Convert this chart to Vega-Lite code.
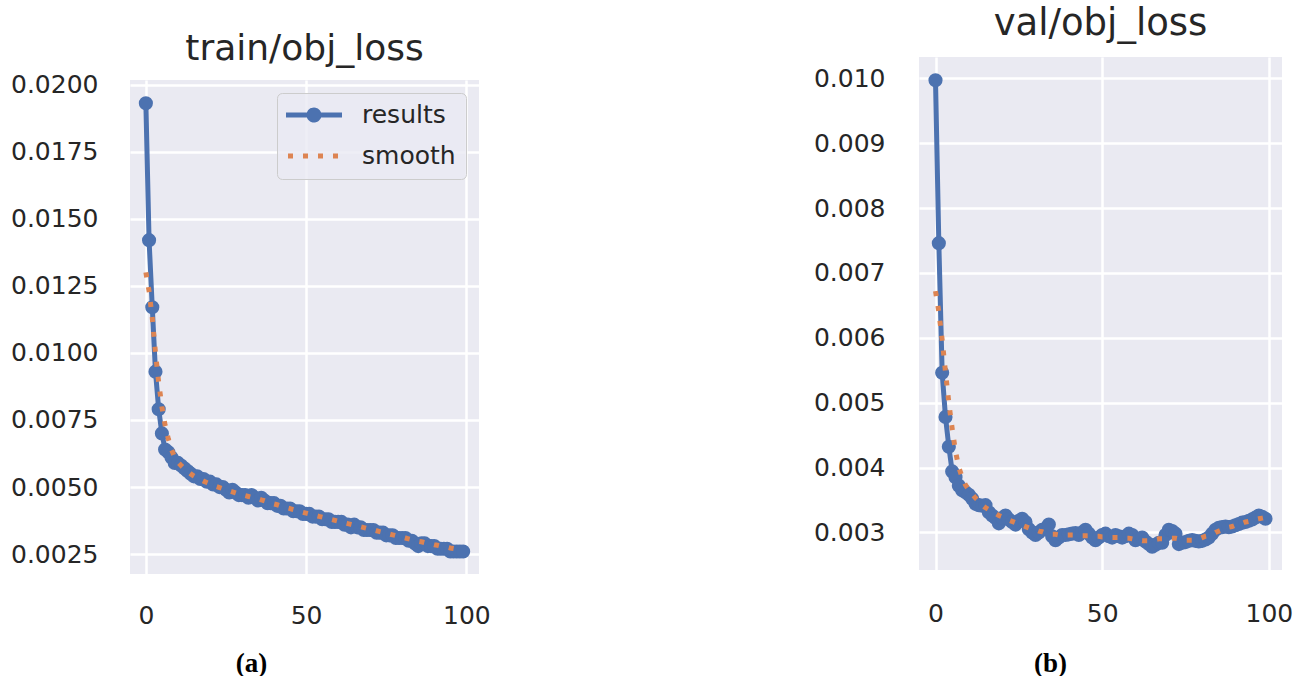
{
"$schema": "https://vega.github.io/schema/vega-lite/v6.json",
"background": "white",
"padding": {"left": 10, "top": 5, "right": 0, "bottom": 0},
"config": {
  "font": "DejaVu Sans",
  "view": {"stroke": null, "fill": "#EAEAF2"},
  "axis": {"domain": false, "ticks": false, "grid": true, "gridColor": "#FFFFFF", "gridWidth": 2.5, "labelFont": "DejaVu Sans", "labelFontSize": 25, "labelColor": "#262626"},
  "title": {"font": "DejaVu Sans", "fontWeight": "normal", "color": "#262626", "anchor": "middle", "frame": "group"}
},
"datasets": {
"train": [
{"epoch":0,"series":"results","value":0.0193},{"epoch":1,"series":"results","value":0.0142},{"epoch":2,"series":"results","value":0.0117},{"epoch":3,"series":"results","value":0.0093},{"epoch":4,"series":"results","value":0.0079},{"epoch":5,"series":"results","value":0.0070},{"epoch":6,"series":"results","value":0.0064},{"epoch":7,"series":"results","value":0.0063},{"epoch":8,"series":"results","value":0.0061},{"epoch":9,"series":"results","value":0.0059},
{"epoch":10,"series":"results","value":0.0059},{"epoch":11,"series":"results","value":0.0058},{"epoch":12,"series":"results","value":0.0057},{"epoch":13,"series":"results","value":0.0056},{"epoch":14,"series":"results","value":0.0055},{"epoch":15,"series":"results","value":0.0054},{"epoch":16,"series":"results","value":0.0054},{"epoch":17,"series":"results","value":0.0053},{"epoch":18,"series":"results","value":0.0053},{"epoch":19,"series":"results","value":0.0052},
{"epoch":20,"series":"results","value":0.0052},{"epoch":21,"series":"results","value":0.0051},{"epoch":22,"series":"results","value":0.0051},{"epoch":23,"series":"results","value":0.0050},{"epoch":24,"series":"results","value":0.0050},{"epoch":25,"series":"results","value":0.0049},{"epoch":26,"series":"results","value":0.0048},{"epoch":27,"series":"results","value":0.0049},{"epoch":28,"series":"results","value":0.0048},{"epoch":29,"series":"results","value":0.0047},
{"epoch":30,"series":"results","value":0.0047},{"epoch":31,"series":"results","value":0.0047},{"epoch":32,"series":"results","value":0.0046},{"epoch":33,"series":"results","value":0.0047},{"epoch":34,"series":"results","value":0.0046},{"epoch":35,"series":"results","value":0.0045},{"epoch":36,"series":"results","value":0.0046},{"epoch":37,"series":"results","value":0.0045},{"epoch":38,"series":"results","value":0.0044},{"epoch":39,"series":"results","value":0.0044},
{"epoch":40,"series":"results","value":0.0044},{"epoch":41,"series":"results","value":0.0043},{"epoch":42,"series":"results","value":0.0043},{"epoch":43,"series":"results","value":0.0042},{"epoch":44,"series":"results","value":0.0042},{"epoch":45,"series":"results","value":0.0042},{"epoch":46,"series":"results","value":0.0041},{"epoch":47,"series":"results","value":0.0041},{"epoch":48,"series":"results","value":0.0041},{"epoch":49,"series":"results","value":0.0040},
{"epoch":50,"series":"results","value":0.0040},{"epoch":51,"series":"results","value":0.0040},{"epoch":52,"series":"results","value":0.0039},{"epoch":53,"series":"results","value":0.0039},{"epoch":54,"series":"results","value":0.0039},{"epoch":55,"series":"results","value":0.0038},{"epoch":56,"series":"results","value":0.0038},{"epoch":57,"series":"results","value":0.0038},{"epoch":58,"series":"results","value":0.0037},{"epoch":59,"series":"results","value":0.0037},
{"epoch":60,"series":"results","value":0.0037},{"epoch":61,"series":"results","value":0.0037},{"epoch":62,"series":"results","value":0.0036},{"epoch":63,"series":"results","value":0.0036},{"epoch":64,"series":"results","value":0.0035},{"epoch":65,"series":"results","value":0.0036},{"epoch":66,"series":"results","value":0.0035},{"epoch":67,"series":"results","value":0.0035},{"epoch":68,"series":"results","value":0.0034},{"epoch":69,"series":"results","value":0.0034},
{"epoch":70,"series":"results","value":0.0034},{"epoch":71,"series":"results","value":0.0034},{"epoch":72,"series":"results","value":0.0033},{"epoch":73,"series":"results","value":0.0033},{"epoch":74,"series":"results","value":0.0033},{"epoch":75,"series":"results","value":0.0032},{"epoch":76,"series":"results","value":0.0032},{"epoch":77,"series":"results","value":0.0032},{"epoch":78,"series":"results","value":0.0031},{"epoch":79,"series":"results","value":0.0031},
{"epoch":80,"series":"results","value":0.0031},{"epoch":81,"series":"results","value":0.0031},{"epoch":82,"series":"results","value":0.0030},{"epoch":83,"series":"results","value":0.0030},{"epoch":84,"series":"results","value":0.0029},{"epoch":85,"series":"results","value":0.0028},{"epoch":86,"series":"results","value":0.0029},{"epoch":87,"series":"results","value":0.0029},{"epoch":88,"series":"results","value":0.0028},{"epoch":89,"series":"results","value":0.0028},
{"epoch":90,"series":"results","value":0.0028},{"epoch":91,"series":"results","value":0.0027},{"epoch":92,"series":"results","value":0.0027},{"epoch":93,"series":"results","value":0.0027},{"epoch":94,"series":"results","value":0.0027},{"epoch":95,"series":"results","value":0.0026},{"epoch":96,"series":"results","value":0.0026},{"epoch":97,"series":"results","value":0.0026},{"epoch":98,"series":"results","value":0.0026},{"epoch":99,"series":"results","value":0.0026},
{"epoch":0,"series":"smooth","value":0.0130},{"epoch":1,"series":"smooth","value":0.0123},{"epoch":2,"series":"smooth","value":0.0113},{"epoch":3,"series":"smooth","value":0.0100},{"epoch":4,"series":"smooth","value":0.0089},{"epoch":5,"series":"smooth","value":0.0080},{"epoch":6,"series":"smooth","value":0.0073},{"epoch":7,"series":"smooth","value":0.0068},{"epoch":8,"series":"smooth","value":0.0064},{"epoch":9,"series":"smooth","value":0.0061},
{"epoch":10,"series":"smooth","value":0.00593},{"epoch":11,"series":"smooth","value":0.00580},{"epoch":12,"series":"smooth","value":0.00568},{"epoch":13,"series":"smooth","value":0.00558},{"epoch":14,"series":"smooth","value":0.00549},{"epoch":15,"series":"smooth","value":0.00541},{"epoch":16,"series":"smooth","value":0.00534},{"epoch":17,"series":"smooth","value":0.00528},{"epoch":18,"series":"smooth","value":0.00522},{"epoch":19,"series":"smooth","value":0.00517},
{"epoch":20,"series":"smooth","value":0.00512},{"epoch":21,"series":"smooth","value":0.00507},{"epoch":22,"series":"smooth","value":0.00502},{"epoch":23,"series":"smooth","value":0.00498},{"epoch":24,"series":"smooth","value":0.00494},{"epoch":25,"series":"smooth","value":0.00490},{"epoch":26,"series":"smooth","value":0.00486},{"epoch":27,"series":"smooth","value":0.00482},{"epoch":28,"series":"smooth","value":0.00478},{"epoch":29,"series":"smooth","value":0.00474},
{"epoch":30,"series":"smooth","value":0.00471},{"epoch":31,"series":"smooth","value":0.00468},{"epoch":32,"series":"smooth","value":0.00465},{"epoch":33,"series":"smooth","value":0.00462},{"epoch":34,"series":"smooth","value":0.00459},{"epoch":35,"series":"smooth","value":0.00456},{"epoch":36,"series":"smooth","value":0.00452},{"epoch":37,"series":"smooth","value":0.00449},{"epoch":38,"series":"smooth","value":0.00445},{"epoch":39,"series":"smooth","value":0.00441},
{"epoch":40,"series":"smooth","value":0.00437},{"epoch":41,"series":"smooth","value":0.00434},{"epoch":42,"series":"smooth","value":0.00430},{"epoch":43,"series":"smooth","value":0.00427},{"epoch":44,"series":"smooth","value":0.00423},{"epoch":45,"series":"smooth","value":0.00420},{"epoch":46,"series":"smooth","value":0.00416},{"epoch":47,"series":"smooth","value":0.00413},{"epoch":48,"series":"smooth","value":0.00410},{"epoch":49,"series":"smooth","value":0.00406},
{"epoch":50,"series":"smooth","value":0.00403},{"epoch":51,"series":"smooth","value":0.00400},{"epoch":52,"series":"smooth","value":0.00397},{"epoch":53,"series":"smooth","value":0.00394},{"epoch":54,"series":"smooth","value":0.00391},{"epoch":55,"series":"smooth","value":0.00388},{"epoch":56,"series":"smooth","value":0.00385},{"epoch":57,"series":"smooth","value":0.00382},{"epoch":58,"series":"smooth","value":0.00379},{"epoch":59,"series":"smooth","value":0.00376},
{"epoch":60,"series":"smooth","value":0.00373},{"epoch":61,"series":"smooth","value":0.00370},{"epoch":62,"series":"smooth","value":0.00367},{"epoch":63,"series":"smooth","value":0.00364},{"epoch":64,"series":"smooth","value":0.00361},{"epoch":65,"series":"smooth","value":0.00358},{"epoch":66,"series":"smooth","value":0.00355},{"epoch":67,"series":"smooth","value":0.00352},{"epoch":68,"series":"smooth","value":0.00349},{"epoch":69,"series":"smooth","value":0.00346},
{"epoch":70,"series":"smooth","value":0.00343},{"epoch":71,"series":"smooth","value":0.00340},{"epoch":72,"series":"smooth","value":0.00337},{"epoch":73,"series":"smooth","value":0.00334},{"epoch":74,"series":"smooth","value":0.00331},{"epoch":75,"series":"smooth","value":0.00328},{"epoch":76,"series":"smooth","value":0.00325},{"epoch":77,"series":"smooth","value":0.00322},{"epoch":78,"series":"smooth","value":0.00319},{"epoch":79,"series":"smooth","value":0.00316},
{"epoch":80,"series":"smooth","value":0.00313},{"epoch":81,"series":"smooth","value":0.00310},{"epoch":82,"series":"smooth","value":0.00307},{"epoch":83,"series":"smooth","value":0.00304},{"epoch":84,"series":"smooth","value":0.00301},{"epoch":85,"series":"smooth","value":0.00298},{"epoch":86,"series":"smooth","value":0.00296},{"epoch":87,"series":"smooth","value":0.00293},{"epoch":88,"series":"smooth","value":0.00290},{"epoch":89,"series":"smooth","value":0.00288},
{"epoch":90,"series":"smooth","value":0.00285},{"epoch":91,"series":"smooth","value":0.00283},{"epoch":92,"series":"smooth","value":0.00280},{"epoch":93,"series":"smooth","value":0.00278},{"epoch":94,"series":"smooth","value":0.00276},{"epoch":95,"series":"smooth","value":0.00273},{"epoch":96,"series":"smooth","value":0.00271},{"epoch":97,"series":"smooth","value":0.00269},{"epoch":98,"series":"smooth","value":0.00267},{"epoch":99,"series":"smooth","value":0.00265}
],
"val": [
{"epoch":0,"series":"results","value":0.00997},{"epoch":1,"series":"results","value":0.00746},{"epoch":2,"series":"results","value":0.00546},{"epoch":3,"series":"results","value":0.00478},{"epoch":4,"series":"results","value":0.00432},{"epoch":5,"series":"results","value":0.00394},{"epoch":6,"series":"results","value":0.00385},{"epoch":7,"series":"results","value":0.00372},{"epoch":8,"series":"results","value":0.00365},{"epoch":9,"series":"results","value":0.00362},
{"epoch":10,"series":"results","value":0.00358},{"epoch":11,"series":"results","value":0.00352},{"epoch":12,"series":"results","value":0.00344},{"epoch":13,"series":"results","value":0.00342},{"epoch":14,"series":"results","value":0.00341},{"epoch":15,"series":"results","value":0.00342},{"epoch":16,"series":"results","value":0.00331},{"epoch":17,"series":"results","value":0.00326},{"epoch":18,"series":"results","value":0.00322},{"epoch":19,"series":"results","value":0.00314},
{"epoch":20,"series":"results","value":0.00322},{"epoch":21,"series":"results","value":0.00326},{"epoch":22,"series":"results","value":0.00320},{"epoch":23,"series":"results","value":0.00316},{"epoch":24,"series":"results","value":0.00312},{"epoch":25,"series":"results","value":0.00318},{"epoch":26,"series":"results","value":0.00321},{"epoch":27,"series":"results","value":0.00316},{"epoch":28,"series":"results","value":0.00305},{"epoch":29,"series":"results","value":0.00300},
{"epoch":30,"series":"results","value":0.00296},{"epoch":31,"series":"results","value":0.00300},{"epoch":32,"series":"results","value":0.00304},{"epoch":33,"series":"results","value":0.00306},{"epoch":34,"series":"results","value":0.00312},{"epoch":35,"series":"results","value":0.00294},{"epoch":36,"series":"results","value":0.00288},{"epoch":37,"series":"results","value":0.00292},{"epoch":38,"series":"results","value":0.00296},{"epoch":39,"series":"results","value":0.00296},
{"epoch":40,"series":"results","value":0.00297},{"epoch":41,"series":"results","value":0.00298},{"epoch":42,"series":"results","value":0.00299},{"epoch":43,"series":"results","value":0.00296},{"epoch":44,"series":"results","value":0.00300},{"epoch":45,"series":"results","value":0.00304},{"epoch":46,"series":"results","value":0.00298},{"epoch":47,"series":"results","value":0.00292},{"epoch":48,"series":"results","value":0.00288},{"epoch":49,"series":"results","value":0.00292},
{"epoch":50,"series":"results","value":0.00296},{"epoch":51,"series":"results","value":0.00298},{"epoch":52,"series":"results","value":0.00294},{"epoch":53,"series":"results","value":0.00292},{"epoch":54,"series":"results","value":0.00296},{"epoch":55,"series":"results","value":0.00294},{"epoch":56,"series":"results","value":0.00292},{"epoch":57,"series":"results","value":0.00294},{"epoch":58,"series":"results","value":0.00298},{"epoch":59,"series":"results","value":0.00296},
{"epoch":60,"series":"results","value":0.00288},{"epoch":61,"series":"results","value":0.00290},{"epoch":62,"series":"results","value":0.00292},{"epoch":63,"series":"results","value":0.00286},{"epoch":64,"series":"results","value":0.00282},{"epoch":65,"series":"results","value":0.00278},{"epoch":66,"series":"results","value":0.00281},{"epoch":67,"series":"results","value":0.00284},{"epoch":68,"series":"results","value":0.00284},{"epoch":69,"series":"results","value":0.00296},
{"epoch":70,"series":"results","value":0.00304},{"epoch":71,"series":"results","value":0.00302},{"epoch":72,"series":"results","value":0.00298},{"epoch":73,"series":"results","value":0.00282},{"epoch":74,"series":"results","value":0.00284},{"epoch":75,"series":"results","value":0.00285},{"epoch":76,"series":"results","value":0.00287},{"epoch":77,"series":"results","value":0.00288},{"epoch":78,"series":"results","value":0.00287},{"epoch":79,"series":"results","value":0.00286},
{"epoch":80,"series":"results","value":0.00287},{"epoch":81,"series":"results","value":0.00289},{"epoch":82,"series":"results","value":0.00292},{"epoch":83,"series":"results","value":0.00298},{"epoch":84,"series":"results","value":0.00304},{"epoch":85,"series":"results","value":0.00307},{"epoch":86,"series":"results","value":0.00308},{"epoch":87,"series":"results","value":0.00309},{"epoch":88,"series":"results","value":0.00308},{"epoch":89,"series":"results","value":0.00309},
{"epoch":90,"series":"results","value":0.00311},{"epoch":91,"series":"results","value":0.00313},{"epoch":92,"series":"results","value":0.00315},{"epoch":93,"series":"results","value":0.00316},{"epoch":94,"series":"results","value":0.00318},{"epoch":95,"series":"results","value":0.00320},{"epoch":96,"series":"results","value":0.00323},{"epoch":97,"series":"results","value":0.00326},{"epoch":98,"series":"results","value":0.00324},{"epoch":99,"series":"results","value":0.00321},
{"epoch":0,"series":"smooth","value":0.00672},{"epoch":1,"series":"smooth","value":0.00640},{"epoch":2,"series":"smooth","value":0.00597},{"epoch":3,"series":"smooth","value":0.00547},{"epoch":4,"series":"smooth","value":0.00500},{"epoch":5,"series":"smooth","value":0.00460},{"epoch":6,"series":"smooth","value":0.00425},{"epoch":7,"series":"smooth","value":0.00400},{"epoch":8,"series":"smooth","value":0.00385},{"epoch":9,"series":"smooth","value":0.00373},
{"epoch":10,"series":"smooth","value":0.00366},{"epoch":11,"series":"smooth","value":0.00359},{"epoch":12,"series":"smooth","value":0.00353},{"epoch":13,"series":"smooth","value":0.00348},{"epoch":14,"series":"smooth","value":0.00342},{"epoch":15,"series":"smooth","value":0.00338},{"epoch":16,"series":"smooth","value":0.00335},{"epoch":17,"series":"smooth","value":0.00332},{"epoch":18,"series":"smooth","value":0.00329},{"epoch":19,"series":"smooth","value":0.00326},
{"epoch":20,"series":"smooth","value":0.00324},{"epoch":21,"series":"smooth","value":0.00322},{"epoch":22,"series":"smooth","value":0.00319},{"epoch":23,"series":"smooth","value":0.00317},{"epoch":24,"series":"smooth","value":0.00315},{"epoch":25,"series":"smooth","value":0.00313},{"epoch":26,"series":"smooth","value":0.00311},{"epoch":27,"series":"smooth","value":0.00309},{"epoch":28,"series":"smooth","value":0.00307},{"epoch":29,"series":"smooth","value":0.00305},
{"epoch":30,"series":"smooth","value":0.00304},{"epoch":31,"series":"smooth","value":0.00302},{"epoch":32,"series":"smooth","value":0.00301},{"epoch":33,"series":"smooth","value":0.00299},{"epoch":34,"series":"smooth","value":0.00298},{"epoch":35,"series":"smooth","value":0.00297},{"epoch":36,"series":"smooth","value":0.00297},{"epoch":37,"series":"smooth","value":0.00296},{"epoch":38,"series":"smooth","value":0.00296},{"epoch":39,"series":"smooth","value":0.00296},
{"epoch":40,"series":"smooth","value":0.00296},{"epoch":41,"series":"smooth","value":0.00296},{"epoch":42,"series":"smooth","value":0.00296},{"epoch":43,"series":"smooth","value":0.00296},{"epoch":44,"series":"smooth","value":0.00295},{"epoch":45,"series":"smooth","value":0.00295},{"epoch":46,"series":"smooth","value":0.00295},{"epoch":47,"series":"smooth","value":0.00294},{"epoch":48,"series":"smooth","value":0.00294},{"epoch":49,"series":"smooth","value":0.00294},
{"epoch":50,"series":"smooth","value":0.00293},{"epoch":51,"series":"smooth","value":0.00293},{"epoch":52,"series":"smooth","value":0.00292},{"epoch":53,"series":"smooth","value":0.00292},{"epoch":54,"series":"smooth","value":0.00292},{"epoch":55,"series":"smooth","value":0.00292},{"epoch":56,"series":"smooth","value":0.00291},{"epoch":57,"series":"smooth","value":0.00291},{"epoch":58,"series":"smooth","value":0.00291},{"epoch":59,"series":"smooth","value":0.00290},
{"epoch":60,"series":"smooth","value":0.00289},{"epoch":61,"series":"smooth","value":0.00288},{"epoch":62,"series":"smooth","value":0.00287},{"epoch":63,"series":"smooth","value":0.00287},{"epoch":64,"series":"smooth","value":0.00287},{"epoch":65,"series":"smooth","value":0.00288},{"epoch":66,"series":"smooth","value":0.00289},{"epoch":67,"series":"smooth","value":0.00290},{"epoch":68,"series":"smooth","value":0.00290},{"epoch":69,"series":"smooth","value":0.00291},
{"epoch":70,"series":"smooth","value":0.00291},{"epoch":71,"series":"smooth","value":0.00291},{"epoch":72,"series":"smooth","value":0.00291},{"epoch":73,"series":"smooth","value":0.00290},{"epoch":74,"series":"smooth","value":0.00289},{"epoch":75,"series":"smooth","value":0.00288},{"epoch":76,"series":"smooth","value":0.00288},{"epoch":77,"series":"smooth","value":0.00288},{"epoch":78,"series":"smooth","value":0.00289},{"epoch":79,"series":"smooth","value":0.00290},
{"epoch":80,"series":"smooth","value":0.00292},{"epoch":81,"series":"smooth","value":0.00294},{"epoch":82,"series":"smooth","value":0.00295},{"epoch":83,"series":"smooth","value":0.00297},{"epoch":84,"series":"smooth","value":0.00300},{"epoch":85,"series":"smooth","value":0.00302},{"epoch":86,"series":"smooth","value":0.00304},{"epoch":87,"series":"smooth","value":0.00306},{"epoch":88,"series":"smooth","value":0.00308},{"epoch":89,"series":"smooth","value":0.00309},
{"epoch":90,"series":"smooth","value":0.00311},{"epoch":91,"series":"smooth","value":0.00312},{"epoch":92,"series":"smooth","value":0.00314},{"epoch":93,"series":"smooth","value":0.00316},{"epoch":94,"series":"smooth","value":0.00317},{"epoch":95,"series":"smooth","value":0.00319},{"epoch":96,"series":"smooth","value":0.00320},{"epoch":97,"series":"smooth","value":0.00321},{"epoch":98,"series":"smooth","value":0.00322},{"epoch":99,"series":"smooth","value":0.00323}
]
},
"resolve": {"scale": {"color": "independent"}, "legend": {"color": "independent"}},
"spacing": 322,
"hconcat": [
  {
    "spacing": 5,
    "resolve": {"scale": {"color": "independent"}, "legend": {"color": "independent"}},
    "vconcat": [
      {
        "width": 349, "height": 1,
        "data": {"values": []},
        "mark": {"type": "rule"},
        "encoding": {},
        "view": {"fill": null, "stroke": null},
        "title": {"text": "train/obj_loss", "fontSize": 36, "offset": -11}
      },
      {
        "width": 349, "height": 494,
        "data": {"name": "train"},
        "encoding": {
          "x": {"field": "epoch", "type": "quantitative",
                "scale": {"domain": [-4.95, 103.95], "nice": false, "zero": false},
                "axis": {"values": [0, 50, 100], "labelPadding": 29.5, "title": "(a)", "titleFont": "Liberation Serif", "titleFontWeight": "bold", "titleFontSize": 27, "titleColor": "#000000", "titleX": 121, "titleY": 89, "titleBaseline": "middle", "titleAlign": "center"}},
          "y": {"field": "value", "type": "quantitative",
                "scale": {"domain": [0.00176, 0.02017], "nice": false, "zero": false},
                "axis": {"values": [0.0025, 0.005, 0.0075, 0.01, 0.0125, 0.015, 0.0175, 0.02], "format": ".4f", "title": null, "labelPadding": 32}},
          "color": {"field": "series", "type": "nominal",
                "scale": {"domain": ["results", "smooth"], "range": ["#4C72B0", "#DD8452"]},
                "legend": {"title": null, "orient": "top-right", "offset": 13, "padding": 9.5,
                  "fillColor": "rgba(234,234,242,0.8)", "strokeColor": "#cccccc", "cornerRadius": 5,
                  "labelFont": "DejaVu Sans", "labelFontSize": 25, "labelColor": "#262626",
                  "symbolSize": 400, "symbolStrokeWidth": 5, "symbolOffset": 15, "labelOffset": 35.5, "rowPadding": 13,
                  "encode": {"symbols": {"update": {
                    "shape": {"signal": "datum.value === 'results' ? 'M-2.8,0H2.8M0.5,0A0.5,0.5 0 1 1 -0.5,0A0.5,0.5 0 1 1 0.5,0Z' : 'M-2.6,0H2.6'"},
                    "fill": {"signal": "datum.value === 'results' ? '#4C72B0' : 'transparent'"},
                    "stroke": {"signal": "datum.value === 'results' ? '#4C72B0' : '#DD8452'"},
                    "strokeDash": {"signal": "datum.value === 'smooth' ? [5, 10] : [1, 0]"},
                    "strokeCap": {"value": "butt"},
                    "strokeWidth": {"value": 5},
                    "opacity": {"value": 1}
                  }}}}}
        },
        "layer": [
          {"transform": [{"filter": "datum.series === 'results'"}], "mark": {"type": "line", "strokeWidth": 5}},
          {"transform": [{"filter": "datum.series === 'results'"}], "mark": {"type": "point", "filled": true, "size": 200, "opacity": 1}},
          {"transform": [{"filter": "datum.series === 'smooth'"}], "mark": {"type": "line", "strokeWidth": 5, "strokeDash": [5, 10], "strokeCap": "butt"}}
        ]
      }
    ]
  },
  {
    "width": 363, "height": 513,
    "data": {"name": "val"},
    "title": {"text": "val/obj_loss", "fontSize": 37, "offset": 14},
    "encoding": {
      "x": {"field": "epoch", "type": "quantitative",
            "scale": {"domain": [-4.95, 103.95], "nice": false, "zero": false},
            "axis": {"values": [0, 50, 100], "labelPadding": 31.5, "title": "(b)", "titleFont": "Liberation Serif", "titleFontWeight": "bold", "titleFontSize": 27, "titleColor": "#000000", "titleX": 131, "titleY": 93, "titleBaseline": "middle", "titleAlign": "center"}},
      "y": {"field": "value", "type": "quantitative",
            "scale": {"domain": [0.00242, 0.01033], "nice": false, "zero": false},
            "axis": {"values": [0.003, 0.004, 0.005, 0.006, 0.007, 0.008, 0.009, 0.010], "format": ".3f", "title": null, "labelPadding": 34}},
      "color": {"field": "series", "type": "nominal",
            "scale": {"domain": ["results", "smooth"], "range": ["#4C72B0", "#DD8452"]},
            "legend": null}
    },
    "layer": [
      {"transform": [{"filter": "datum.series === 'results'"}], "mark": {"type": "line", "strokeWidth": 5}},
      {"transform": [{"filter": "datum.series === 'results'"}], "mark": {"type": "point", "filled": true, "size": 200, "opacity": 1}},
      {"transform": [{"filter": "datum.series === 'smooth'"}], "mark": {"type": "line", "strokeWidth": 5, "strokeDash": [5, 10], "strokeCap": "butt"}}
    ]
  }
]
}
